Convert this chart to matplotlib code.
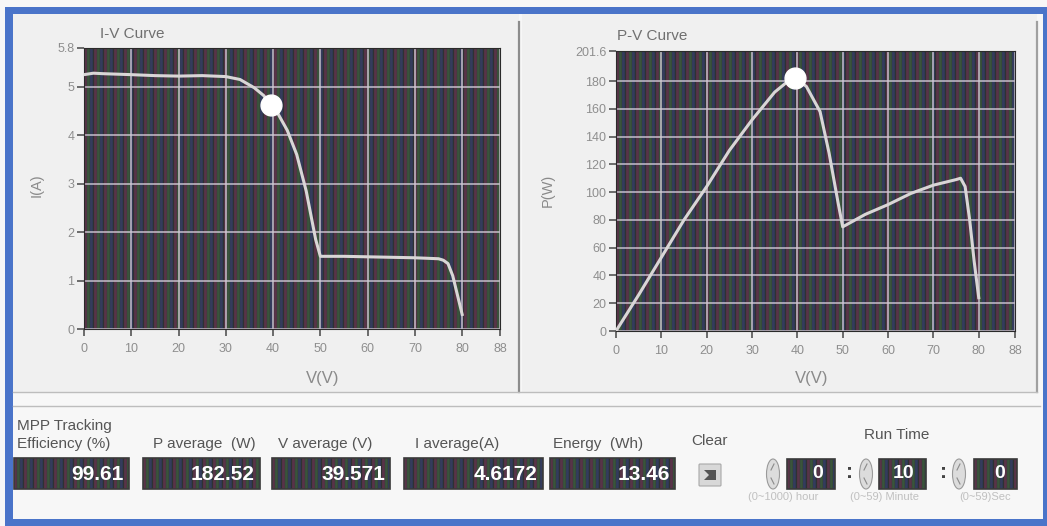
import numpy as np
import matplotlib
matplotlib.use("Agg")
import matplotlib.pyplot as plt
from matplotlib.patches import Rectangle, Ellipse, FancyBboxPatch, Polygon

plt.rcParams['font.family'] = ['Liberation Sans', 'DejaVu Sans']

# I-V curve
iv_v = [0, 2, 4, 10, 15, 20, 25, 30, 33, 36, 38, 39.571, 41, 43, 45, 47, 49, 50,
        55, 60, 65, 70, 75, 76, 77, 78, 79, 80]
iv_i = [5.25, 5.28, 5.27, 5.25, 5.23, 5.22, 5.23, 5.21, 5.15, 4.98, 4.82, 4.6172,
        4.45, 4.10, 3.60, 2.85, 1.85, 1.50, 1.50, 1.49, 1.48, 1.47, 1.45, 1.42,
        1.35, 1.10, 0.70, 0.30]

# P-V curve
pv_v = [0, 5, 10, 15, 20, 25, 30, 35, 38, 39.571, 42, 45, 47, 49, 50, 55, 60,
        65, 70, 75, 76, 77, 78, 79, 80]
pv_p = [0, 26, 53, 80, 104, 130, 152, 172, 180, 182.52, 176, 158, 128, 92, 75,
        84, 91, 99, 105, 109, 110, 104, 80, 50, 24]

mpp_v = 39.571
mpp_i = 4.6172
mpp_p = 182.52

x_ticks = [0, 10, 20, 30, 40, 50, 60, 70, 80, 88]
iv_yticks = [0, 1, 2, 3, 4, 5, 5.8]
pv_yticks = [0, 20, 40, 60, 80, 100, 120, 140, 160, 180, 201.6]

ind_labels = ["MPP Tracking\nEfficiency (%)", "P average  (W)", "V average (V)",
              "I average(A)", "Energy  (Wh)"]
ind_values = ["99.61", "182.52", "39.571", "4.6172", "13.46"]
run_values = ["0", "10", "0"]
run_labels = ["(0~1000) hour", "(0~59) Minute", "(0~59)Sec"]

W, H = 1047, 526
fig = plt.figure(figsize=(W / 100, H / 100), dpi=100, facecolor='#f7f7f7')

# full-figure layer in pixel coordinates for the panel decoration
bg = fig.add_axes([0, 0, 1, 1])
bg.set_xlim(0, W)
bg.set_ylim(H, 0)
bg.axis('off')

blue = '#4a74c9'
for x0, y0, w, h in [(5, 7, W - 5, 7), (5, 7, 8, H - 7), (5, 519, W - 5, 7), (1043, 7, 4, H - 7)]:
    bg.add_patch(Rectangle((x0, y0), w, h, color=blue, lw=0))
bg.add_patch(Rectangle((13, 14), 506, 378, color='#f0f0f0', lw=0))
bg.add_patch(Rectangle((522, 14), 515, 378, color='#f0f0f0', lw=0))
bg.plot([519, 519], [22, 392], color='#8c8c8c', lw=1.6)
bg.plot([1037, 1037], [22, 392], color='#a0a0a0', lw=1.6)
bg.plot([13, 1037], [392, 392], color='#bdbdbd', lw=1.0)
bg.plot([13, 1040], [406, 406], color='#bdbdbd', lw=1.0)

base = np.array([[84, 50, 70], [88, 52, 72], [80, 52, 68],
                 [56, 80, 58], [58, 84, 60], [54, 76, 56],
                 [50, 58, 90], [52, 60, 92], [48, 56, 84],
                 [46, 50, 50]]) / 255.0


def stripes(ax, extent, npx):
    reps = int(np.ceil(npx / len(base)))
    img = np.tile(base, (reps, 1))[:npx][None, :, :]
    ax.imshow(img, extent=extent, aspect='auto', interpolation='nearest', zorder=0)


def style_plot(ax, ymax, yticks, npx):
    ax.set_xlim(0, 88)
    ax.set_ylim(0, ymax)
    stripes(ax, (0, 88, 0, ymax), npx)
    ax.set_xticks(x_ticks)
    ax.set_yticks(yticks)
    ax.set_yticklabels([('%g' % t) for t in yticks])
    ax.tick_params(colors='#555555', labelcolor='#8e8e8e', labelsize=9,
                   length=5, width=1.2)
    ax.tick_params(axis='x', pad=5)
    ax.tick_params(axis='y', pad=2)
    ax.grid(True, color='#d2cad6', lw=1.2, alpha=0.85)
    for s in ax.spines.values():
        s.set_color('#2a2a2a')


# I-V graph
ax1 = fig.add_axes([84 / W, 1 - 329 / H, 416 / W, 281 / H])
style_plot(ax1, 5.8, iv_yticks, 416)
ax1.plot(iv_v, iv_i, color='#d9d6d6', lw=2.2, zorder=3)
ax1.plot([mpp_v], [mpp_i], 'o', color='white', ms=15, zorder=4)

# P-V graph
ax2 = fig.add_axes([616 / W, 1 - 331 / H, 399 / W, 280 / H])
style_plot(ax2, 201.6, pv_yticks, 399)
ax2.plot(pv_v, pv_p, color='#d9d6d6', lw=2.2, zorder=3)
ax2.plot([mpp_v], [mpp_p], 'o', color='white', ms=15, zorder=4)

txt = '#707070'
bg.text(100, 34, 'I-V Curve', fontsize=11, color=txt, va='center')
bg.text(617, 36, 'P-V Curve', fontsize=11, color=txt, va='center')
bg.text(37, 185, 'I(A)', fontsize=10.5, color='#8a8a8a', rotation=90, ha='center', va='center')
bg.text(548, 190, 'P(W)', fontsize=10.5, color='#8a8a8a', rotation=90, ha='center', va='center')
bg.text(323, 378, 'V(V)', fontsize=12, color='#8a8a8a', ha='center', va='center')
bg.text(812, 378, 'V(V)', fontsize=12, color='#8a8a8a', ha='center', va='center')

# numeric indicators
box_x = [(14, 129), (143, 260), (272, 390), (404, 543), (550, 675)]
label_x = [17, 153, 278, 415, 553]
for (x0, x1), lx, lab, val in zip(box_x, label_x, ind_labels, ind_values):
    bg.text(lx, 451, lab, fontsize=11, color='#555555', va='bottom', linespacing=1.35)
    stripes(bg, (x0, x1, 489, 458), x1 - x0)
    bg.add_patch(Rectangle((x0, 458), x1 - x0, 31, fill=False, ec='#3a3a3a', lw=1.2))
    bg.text(x1 - 5, 474, val, fontsize=15, fontweight='bold', color='white',
            ha='right', va='center')

# clear button
bg.text(709, 441, 'Clear', fontsize=11, color='#555555', ha='center', va='center')
bg.add_patch(FancyBboxPatch((700, 465), 20, 20, boxstyle='round,pad=1',
                            fc='#d8d8d8', ec='#a8a8a8', lw=0.8))
bg.add_patch(Polygon([[704, 470], [716, 470], [716, 480], [704, 480], [709, 475]],
                     closed=True, fc='#555555', ec='none'))

# run time controls
bg.text(897, 435, 'Run Time', fontsize=11, color='#555555', ha='center', va='center')
run_x = [(787, 835), (879, 926), (974, 1017)]
spin_x = [773, 866, 959]
sub_x = [783, 885, 985]
for (x0, x1), sx, tx, val, lab in zip(run_x, spin_x, sub_x, run_values, run_labels):
    bg.add_patch(Ellipse((sx, 474), 13, 30, fc='#dcdcdc', ec='#9a9a9a', lw=0.8))
    bg.plot([sx - 2, sx + 1], [470, 464], color='#8a8a8a', lw=0.8)
    bg.plot([sx - 2, sx + 1], [478, 484], color='#8a8a8a', lw=0.8)
    stripes(bg, (x0, x1, 489, 459), x1 - x0)
    bg.add_patch(Rectangle((x0, 459), x1 - x0, 30, fill=False, ec='#3a3a3a', lw=1.2))
    bg.text(x1 - 12, 474, val, fontsize=14, fontweight='bold', color='white',
            ha='right', va='center')
    bg.text(tx, 497, lab, fontsize=8, color='#c0c0c0', ha='center', va='center')
for cx in [850, 943]:
    bg.text(cx, 473, ':', fontsize=15, fontweight='bold', color='#444444',
            ha='center', va='center')

bg.set_xlim(0, W)
bg.set_ylim(H, 0)

fig.savefig('out.png', dpi=100, facecolor=fig.get_facecolor())
